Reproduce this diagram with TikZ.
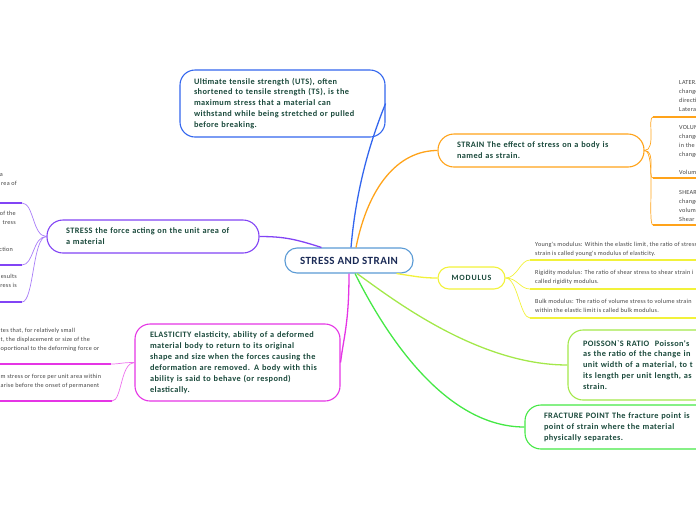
\documentclass[tikz,border=0pt]{standalone}
\usepackage{fontspec}
\setmainfont{Carlito}
\newfontfamily\boxf[LetterSpace=5]{Carlito}
\newfontfamily\ctrf[LetterSpace=4]{Carlito}
\newfontfamily\modf[LetterSpace=10]{Carlito}
\newfontfamily\smallf[LetterSpace=4]{Carlito}
\usetikzlibrary{calc}
\definecolor{ctrb}{HTML}{5B9BD5}
\definecolor{utsb}{HTML}{3366EE}
\definecolor{strainb}{HTML}{FFA31A}
\definecolor{stressb}{HTML}{8244F5}
\definecolor{modb}{HTML}{F2F23A}
\definecolor{elab}{HTML}{E535E5}
\definecolor{poib}{HTML}{A3E84A}
\definecolor{frab}{HTML}{45E845}
\definecolor{txtc}{HTML}{1B4A3C}
\definecolor{ctrtxt}{HTML}{1A2A55}
\definecolor{smallc}{HTML}{444444}
\tikzset{
  box/.style={draw, fill=white, line width=1.1pt, rounded corners=14pt, align=left,
    font=\boxf\bfseries\fontsize{8.3}{10.9}\selectfont, text=txtc, inner ysep=0pt},
  small/.style={font=\smallf\fontsize{6.2}{9}\selectfont, text=smallc, inner sep=0pt},
  conn/.style={line width=1.3pt},
  subconn/.style={line width=0.7pt},
  uline/.style={line width=1.8pt},
}
\begin{document}
\begin{tikzpicture}[x=1pt,y=-1pt]
\useasboundingbox (0,0) rectangle (696,520);
\clip (0,0) rectangle (696,520);

% main nodes
\node[box, draw=ctrb, align=center, minimum width=128pt, minimum height=25pt, rounded corners=12pt,
  font=\ctrf\bfseries\fontsize{11}{12}\selectfont, text=ctrtxt] (ctr) at (349,260.5) {STRESS AND STRAIN};
\node[box, draw=utsb, inner xsep=14pt, text width=177pt, minimum height=67pt, rounded corners=15pt] (uts) at (282.5,103.5)
 {Ultimate tensile strength (UTS), often\\shortened to tensile strength (TS), is the\\maximum stress that a material can\\withstand while being stretched or pulled\\before breaking.};
\node[box, draw=strainb, inner xsep=19pt, text width=168pt, minimum height=33pt, rounded corners=16pt] (strain) at (541,150.5)
 {STRAIN The effect of stress on a body is\\named as strain.};
\node[box, draw=stressb, inner xsep=19pt, text width=174pt, minimum height=33pt, rounded corners=16pt] (stress) at (153,236.5)
 {STRESS the force acting on the unit area of\\a material};
\node[box, draw=modb, align=center, minimum width=67pt, minimum height=22pt, rounded corners=11pt,
  font=\modf\bfseries\fontsize{8}{9}\selectfont] (mod) at (471.5,278) {MODULUS};
\node[box, draw=elab, inner xsep=15pt, text width=175pt, minimum height=77pt, rounded corners=15pt] (ela) at (237.5,362.5)
 {ELASTICITY elasticity, ability of a deformed\\material body to return to its original\\shape and size when the forces causing the\\deformation are removed. A body with this\\ability is said to behave (or respond)\\elastically.};
\node[box, draw=poib, inner xsep=15pt, text width=170pt, minimum height=70pt, rounded corners=15pt] (poi) at (668,365)
 {POISSON`S RATIO\ \ Poisson's\\as the ratio of the change in\\unit width of a material, to t\\its length per unit length, as\\strain.};
\node[box, draw=frab, inner xsep=19pt, text width=162pt, minimum height=44pt, rounded corners=16pt] (fra) at (625,427)
 {FRACTURE POINT The fracture point is\\point of strain where the material\\physically separates.};

% main connectors
\draw[conn, utsb] ($(ctr.north)+(2,0)$) .. controls +(6,-70) and +(-10,25) .. (uts.east);
\draw[conn, strainb] ($(ctr.north)+(7,0)$) .. controls +(12,-60) and +(-40,0) .. (strain.west);
\draw[conn, stressb] ($(ctr.north west)+(37,0)$) .. controls +(-25,-8) and +(25,0) .. (stress.east);
\draw[conn, modb] ($(ctr.south east)+(-17,0)$) .. controls +(20,3) and +(-15,0) .. (mod.west);
\draw[conn, elab] ($(ctr.south)+(0,0)$) .. controls +(0,50) and +(3,-25) .. (ela.east);
\draw[conn, poib] ($(ctr.south)+(8,0)$) .. controls +(35,25) and +(-90,0) .. (poi.west);
\draw[conn, frab] ($(ctr.south)+(6,0)$) .. controls +(30,60) and +(-80,0) .. (fra.west);

% STRAIN children
\coordinate (s1) at (653,117); \coordinate (s2) at (653,178); \coordinate (s3) at (653,225);
\node[small, anchor=north west, align=left] (lat) at (679,80.3) {LATERAL\\change\\direction\\Lateral};
\node[small, anchor=north west, align=left] (vol) at (679,125.3) {VOLUME\\change\\in the\\change\\\mbox{}\\Volume};
\node[small, anchor=north west, align=left] (she) at (679,190.3) {SHEAR\\change\\volume\\Shear};
\foreach \c in {s1,s2,s3} {
  \draw[subconn, strainb] (strain.east) .. controls +(12,0) and +(-6,0) .. (\c);
  \draw[uline, strainb] (\c) -- ++(50,0);
}

% MODULUS children
\coordinate (m1) at (530,260); \coordinate (m2) at (530,289); \coordinate (m3) at (530,318);
\node[small, anchor=north west, align=left] (you) at (535,242.3) {Young's modulus: Within the elastic limit, the ratio of stress\\strain is called young's modulus of elasticity.};
\node[small, anchor=north west, align=left] (rig) at (535,270.3) {Rigidity modulus: The ratio of shear stress to shear strain i\\called rigidity modulus.};
\node[small, anchor=north west, align=left] (bul) at (535,299.3) {Bulk modulus: The ratio of volume stress to volume strain\\within the elastic limit is called bulk modulus.};
\foreach \c in {m1,m2,m3} {
  \draw[subconn, modb] (mod.east) .. controls +(12,0) and +(-10,0) .. (\c);
  \draw[uline, modb] (\c) -- ++(180,0);
}

% STRESS children
\coordinate (t1) at (22,203); \coordinate (t2) at (22,265); \coordinate (t3) at (22,302);
\node[small, anchor=north east, align=right] (st1) at (17,173.3) {a\hspace*{14pt}\\rea of};
\node[small, anchor=north east, align=right] (st2) at (16,211.3) {of the\\tress\hspace*{3pt}\\\mbox{}\\\mbox{}\\ction\hspace*{3pt}};
\node[small, anchor=north east, align=right] (st3) at (17,274.3) {esults\\ress is};
\foreach \c in {t1,t2,t3} {
  \draw[subconn, stressb!70] (stress.west) .. controls +(-14,0) and +(12,0) .. (\c);
  \draw[uline, stressb] (\c) -- ++(-40,0);
}

% ELASTICITY children
\coordinate (e1) at (111,364); \coordinate (e2) at (112,401);
\node[small, anchor=north west, align=left] (el1) at (0.5,328.3) {tes that, for relatively small\\t, the displacement or size of the\\oportional to the deforming force or};
\node[small, anchor=north west, align=left] (el2) at (0.5,374.3) {m stress or force per unit area within\\arise before the onset of permanent};
\foreach \c in {e1,e2} {
  \draw[subconn, elab!70] (ela.west) .. controls +(-14,0) and +(10,0) .. (\c);
  \draw[uline, elab] (\c) -- ++(-130,0);
}
\end{tikzpicture}
\end{document}
